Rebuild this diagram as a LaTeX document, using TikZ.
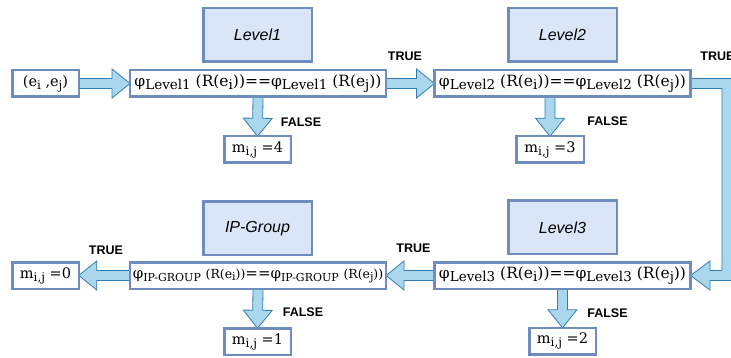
\documentclass[tikz,border=0pt]{standalone}
\usepackage{fontspec}
\setmainfont{DejaVu Serif}
\setsansfont{Liberation Sans}
\usepackage{tikz}
\usetikzlibrary{calc,backgrounds}
\definecolor{boxline}{RGB}{110,140,190}
\definecolor{levelfill}{RGB}{218,230,248}
\definecolor{arrowfill}{RGB}{170,215,235}
\definecolor{arrowline}{RGB}{46,125,181}

\newcommand{\subtxt}[1]{\raisebox{-3pt}{\fontsize{12}{12}\selectfont #1}}
\newcommand{\condsub}[1]{\raisebox{-3.5pt}{\fontsize{13.5}{14}\selectfont #1}}
\newcommand{\condtext}[1]{φ\condsub{#1} (R(e\condsub{i}))==φ\condsub{#1} (R(e\condsub{j}))}
\newcommand{\ipsub}{\raisebox{-3pt}{\fontsize{11}{11}\selectfont IP-GROUP}}
\newcommand{\ippart}[1]{{\fontsize{12.5}{13}\selectfont (R(e\raisebox{-2pt}{\fontsize{11}{11}\selectfont #1}))}}
\newcommand{\fatarrow}[2]{%
  \coordinate (fa) at ($(#2)!18pt!(#1)$);
  \draw[fatarrow] ($(#1)!5pt!90:(#2)$) -- ($(fa)!5pt!90:(#2)$) -- ($(fa)!14.5pt!90:(#2)$) -- (#2)
    -- ($(fa)!14.5pt!-90:(#2)$) -- ($(fa)!5pt!-90:(#2)$) -- ($(#1)!5pt!-90:(#2)$) -- cycle;}

\begin{document}
\begin{tikzpicture}[x=1pt, y=-1pt,
  box/.style={draw=boxline, line width=2.5pt, fill=white, inner sep=0pt, outer sep=0pt,
    minimum height=26.5pt, minimum width=66.5pt, font=\fontsize{14.5}{16}\selectfont},
  condbox/.style={box, minimum width=256pt, font=\fontsize{15.5}{17}\selectfont},
  levelbox/.style={draw=boxline, line width=2.5pt, fill=levelfill, minimum width=108.5pt,
    minimum height=53.5pt, font=\sffamily\itshape\fontsize{16}{18}\selectfont},
  tag/.style={font=\sffamily\bfseries\fontsize{12.5}{14}\selectfont},
  fatarrow/.style={draw=arrowline, fill=arrowfill, line width=0.8pt, line join=miter}]
\path[use as bounding box, clip] (0,0) rectangle (731,358);

% upper row
\node[box] (pair) at (45.5,83.5) {(e\subtxt{i} ,e\subtxt{j})};
\node[condbox] (c1) at (258,83.5) {\condtext{Level1}};
\node[condbox] (c2) at (562.5,83.5) {\condtext{Level2}};
\node[levelbox] (l1) at (257.5,35) {Level1};
\node[levelbox] (l2) at (562.5,35) {Level2};
\node[box] (m4) at (257.5,149.5) {m\subtxt{i,j} =4};
\node[box, minimum width=67.5pt] (m3) at (550,149.5) {m\subtxt{i,j} =3};

% lower row
\node[condbox] (c3) at (562.5,275.5) {\condtext{Level3}};
\node[condbox, font=\fontsize{15}{17}\selectfont] (cip) at (258,275.5)
  {φ\ipsub\ \ippart{i}==φ\ipsub\ \ippart{j}};
\node[levelbox] (l3) at (562.5,227.5) {Level3};
\node[levelbox] (ipg) at (257.5,228.5) {IP-Group};
\node[box] (m0) at (45.5,275.5) {m\subtxt{i,j} =0};
\node[box] (m1) at (257.5,341.5) {m\subtxt{i,j} =1};
\node[box] (m2) at (562.5,341) {m\subtxt{i,j} =2};

% labels
\node[tag] (t1) at (405,56) {TRUE};
\node[tag] (t2) at (717.5,56) {TRUE};
\node[tag] (f1) at (301,122) {FALSE};
\node[tag] (f2) at (607.5,121) {FALSE};
\node[tag] (t3) at (413.5,248.5) {TRUE};
\node[tag] (t4) at (106,250) {TRUE};
\node[tag] (f3) at (607.5,313) {FALSE};
\node[tag] (f4) at (303,312.5) {FALSE};

\begin{scope}[on background layer]
  \fatarrow{pair.east}{c1.west}
  \fatarrow{c1.east}{c2.west}
  \fatarrow{c3.west}{cip.east}
  \fatarrow{cip.west}{m0.east}
  \fatarrow{c1.south}{m4.north}
  \coordinate (c2f) at (c2.south -| m3.north);
  \fatarrow{c2f}{m3.north}
  \fatarrow{c3.south}{m2.north}
  \fatarrow{cip.south}{m1.north}
  % round the corner, level2 to level3
  \draw[fatarrow] ($(c2.east)+(0,-5)$) -- (732,78.5) -- (732,280.5) -- (710,280.5) -- (710,290)
    -- (c3.east) -- (710,261) -- (710,270.5) -- (722,270.5) -- (722,88.5) -- ($(c2.east)+(0,5)$) -- cycle;
\end{scope}
\end{tikzpicture}
\end{document}
